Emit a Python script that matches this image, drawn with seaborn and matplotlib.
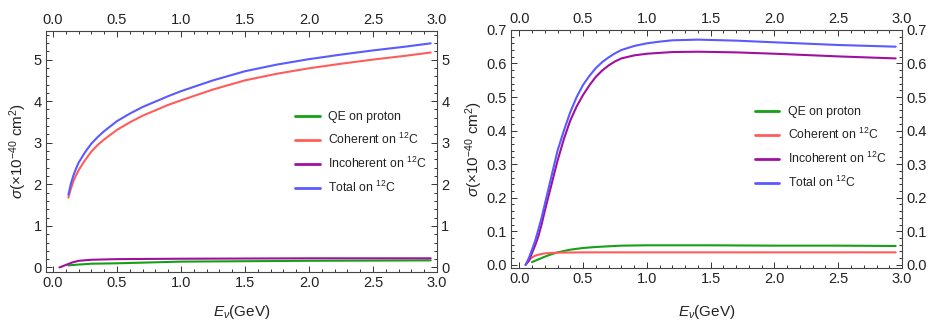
import numpy as np
import pandas as pd
import matplotlib
matplotlib.use("Agg")
import matplotlib.pyplot as plt
from matplotlib.ticker import MultipleLocator, FormatStrFormatter
import seaborn as sns

# ---------------- data ----------------
series_names = ["QE on proton", "Coherent on $^{12}$C", "Incoherent on $^{12}$C", "Total on $^{12}$C"]
colors = ["#16a016", "#ff5c5c", "#a010a0", "#5a5aff"]

# left panel
L_qe_x = [0.12, 0.16, 0.2, 0.3, 0.5, 0.75, 1.0, 1.5, 2.0, 2.5, 2.95]
L_qe_y = [0.05, 0.06, 0.07, 0.09, 0.10, 0.12, 0.14, 0.15, 0.16, 0.165, 0.17]
L_coh_x = [0.12, 0.14, 0.16, 0.18, 0.2, 0.25, 0.3, 0.35, 0.4, 0.5, 0.6, 0.7, 0.8, 0.9, 1.0, 1.25, 1.5, 1.75, 2.0, 2.25, 2.5, 2.75, 2.95]
L_coh_y = [1.68, 1.90, 2.08, 2.22, 2.34, 2.58, 2.79, 2.95, 3.08, 3.31, 3.49, 3.65, 3.78, 3.91, 4.02, 4.28, 4.50, 4.66, 4.79, 4.90, 5.00, 5.09, 5.17]
L_inc_x = [0.05, 0.1, 0.15, 0.2, 0.3, 0.5, 1.0, 1.5, 2.0, 2.5, 2.95]
L_inc_y = [0.0, 0.06, 0.12, 0.16, 0.185, 0.20, 0.21, 0.215, 0.22, 0.22, 0.22]
L_tot_x = [0.12, 0.14, 0.16, 0.18, 0.2, 0.25, 0.3, 0.35, 0.4, 0.5, 0.6, 0.7, 0.8, 0.9, 1.0, 1.25, 1.5, 1.75, 2.0, 2.25, 2.5, 2.75, 2.95]
L_tot_y = [1.75, 2.02, 2.22, 2.38, 2.52, 2.77, 2.98, 3.14, 3.28, 3.52, 3.70, 3.86, 3.99, 4.12, 4.24, 4.50, 4.72, 4.88, 5.01, 5.12, 5.22, 5.31, 5.39]

# right panel
R_qe_x = [0.1, 0.15, 0.2, 0.25, 0.3, 0.35, 0.4, 0.5, 0.6, 0.8, 1.0, 1.5, 2.0, 2.5, 2.95]
R_qe_y = [0.008, 0.016, 0.024, 0.031, 0.037, 0.041, 0.045, 0.050, 0.053, 0.057, 0.058, 0.058, 0.057, 0.057, 0.056]
R_coh_x = [0.05, 0.075, 0.1, 0.125, 0.15, 0.2, 0.25, 0.3, 0.5, 1.0, 2.0, 2.95]
R_coh_y = [0.0, 0.012, 0.022, 0.027, 0.030, 0.034, 0.035, 0.036, 0.037, 0.037, 0.037, 0.037]
R_inc_x = [0.05, 0.075, 0.1, 0.125, 0.15, 0.175, 0.2, 0.225, 0.25, 0.275, 0.3, 0.35, 0.4, 0.45, 0.5, 0.55, 0.6, 0.65, 0.7, 0.75, 0.8, 0.9, 1.0, 1.2, 1.4, 1.7, 2.0, 2.5, 2.95]
R_inc_y = [0.0, 0.012, 0.035, 0.058, 0.085, 0.12, 0.16, 0.198, 0.235, 0.273, 0.31, 0.375, 0.43, 0.472, 0.506, 0.535, 0.560, 0.579, 0.594, 0.606, 0.615, 0.624, 0.629, 0.634, 0.635, 0.633, 0.629, 0.621, 0.615]
R_tot_x = [0.05, 0.075, 0.1, 0.125, 0.15, 0.175, 0.2, 0.225, 0.25, 0.275, 0.3, 0.35, 0.4, 0.45, 0.5, 0.55, 0.6, 0.65, 0.7, 0.75, 0.8, 0.9, 1.0, 1.1, 1.2, 1.4, 1.7, 2.0, 2.5, 2.95]
R_tot_y = [0.0, 0.02, 0.045, 0.072, 0.105, 0.14, 0.18, 0.22, 0.26, 0.30, 0.34, 0.40, 0.455, 0.50, 0.536, 0.563, 0.586, 0.604, 0.618, 0.630, 0.640, 0.652, 0.660, 0.665, 0.669, 0.671, 0.668, 0.663, 0.655, 0.650]

xlabel = r"$E_\nu$(GeV)"
ylabel = r"$\sigma$(×10$^{-40}$ cm$^2$)"

# ---------------- style ----------------
sns.set_theme(style="ticks")
plt.rcParams["font.family"] = ["Liberation Sans", "DejaVu Sans"]
plt.rcParams["mathtext.fontset"] = "custom"
plt.rcParams["mathtext.rm"] = "Liberation Sans"
plt.rcParams["mathtext.it"] = "Liberation Sans:italic"
plt.rcParams["mathtext.bf"] = "Liberation Sans:bold"


def long_df(xs, ys):
    frames = []
    for name, x, y in zip(series_names, xs, ys):
        frames.append(pd.DataFrame({"E": x, "sigma": y, "series": name}))
    return pd.concat(frames, ignore_index=True)


fig = plt.figure(figsize=(9.29, 3.25), dpi=100)
axL = fig.add_axes([0.0495, 0.163, 0.421, 0.742])
axR = fig.add_axes([0.550, 0.175, 0.421, 0.733])

panels = [
    (axL, long_df([L_qe_x, L_coh_x, L_inc_x, L_tot_x], [L_qe_y, L_coh_y, L_inc_y, L_tot_y]),
     (-0.055, 3.0), (-0.11, 5.69), 1.0, 0.2, (0.637, 0.668), "%d", 9, 3),
    (axR, long_df([R_qe_x, R_coh_x, R_inc_x, R_tot_x], [R_qe_y, R_coh_y, R_inc_y, R_tot_y]),
     (-0.065, 3.0), (-0.01, 0.70), 0.1, 0.02, (0.624, 0.680), "%.1f", 12, 1),
]

for ax, df, xl, yl, ymaj, ymin, legpos, yfmt, xlp, ylp in panels:
    sns.lineplot(data=df, x="E", y="sigma", hue="series", hue_order=series_names,
                 palette=colors, sort=False, estimator=None, linewidth=1.5, ax=ax)
    ax.set_xlim(*xl)
    ax.set_ylim(*yl)
    ax.xaxis.set_major_locator(MultipleLocator(0.5))
    ax.xaxis.set_minor_locator(MultipleLocator(0.1))
    ax.yaxis.set_major_locator(MultipleLocator(ymaj))
    ax.yaxis.set_minor_locator(MultipleLocator(ymin))
    ax.xaxis.set_major_formatter(FormatStrFormatter("%.1f"))
    ax.yaxis.set_major_formatter(FormatStrFormatter(yfmt))
    ax.tick_params(which="both", direction="in", top=True, right=True,
                   labeltop=True, labelright=True, colors="#333333",
                   labelcolor="#222222", labelsize=10.5, width=0.7, pad=3)
    ax.tick_params(which="major", length=4.5)
    ax.tick_params(which="minor", length=2.5)
    for sp in ax.spines.values():
        sp.set_color("#444444")
        sp.set_linewidth(0.8)
    ax.set_xlabel(xlabel, fontsize=11, color="#222222", labelpad=xlp)
    ax.set_ylabel(ylabel, fontsize=11, color="#222222", labelpad=ylp)
    handles, labels = ax.get_legend_handles_labels()
    leg = ax.legend(handles, labels, loc="upper left", bbox_to_anchor=legpos,
                    frameon=False, fontsize=8.8, handlelength=2.0, handletextpad=0.7,
                    labelspacing=0.72, borderpad=0, borderaxespad=0)
    for line in leg.get_lines():
        line.set_linewidth(2.0)
    for t in leg.get_texts():
        t.set_color("#222222")

fig.savefig("out.png", dpi=100)
